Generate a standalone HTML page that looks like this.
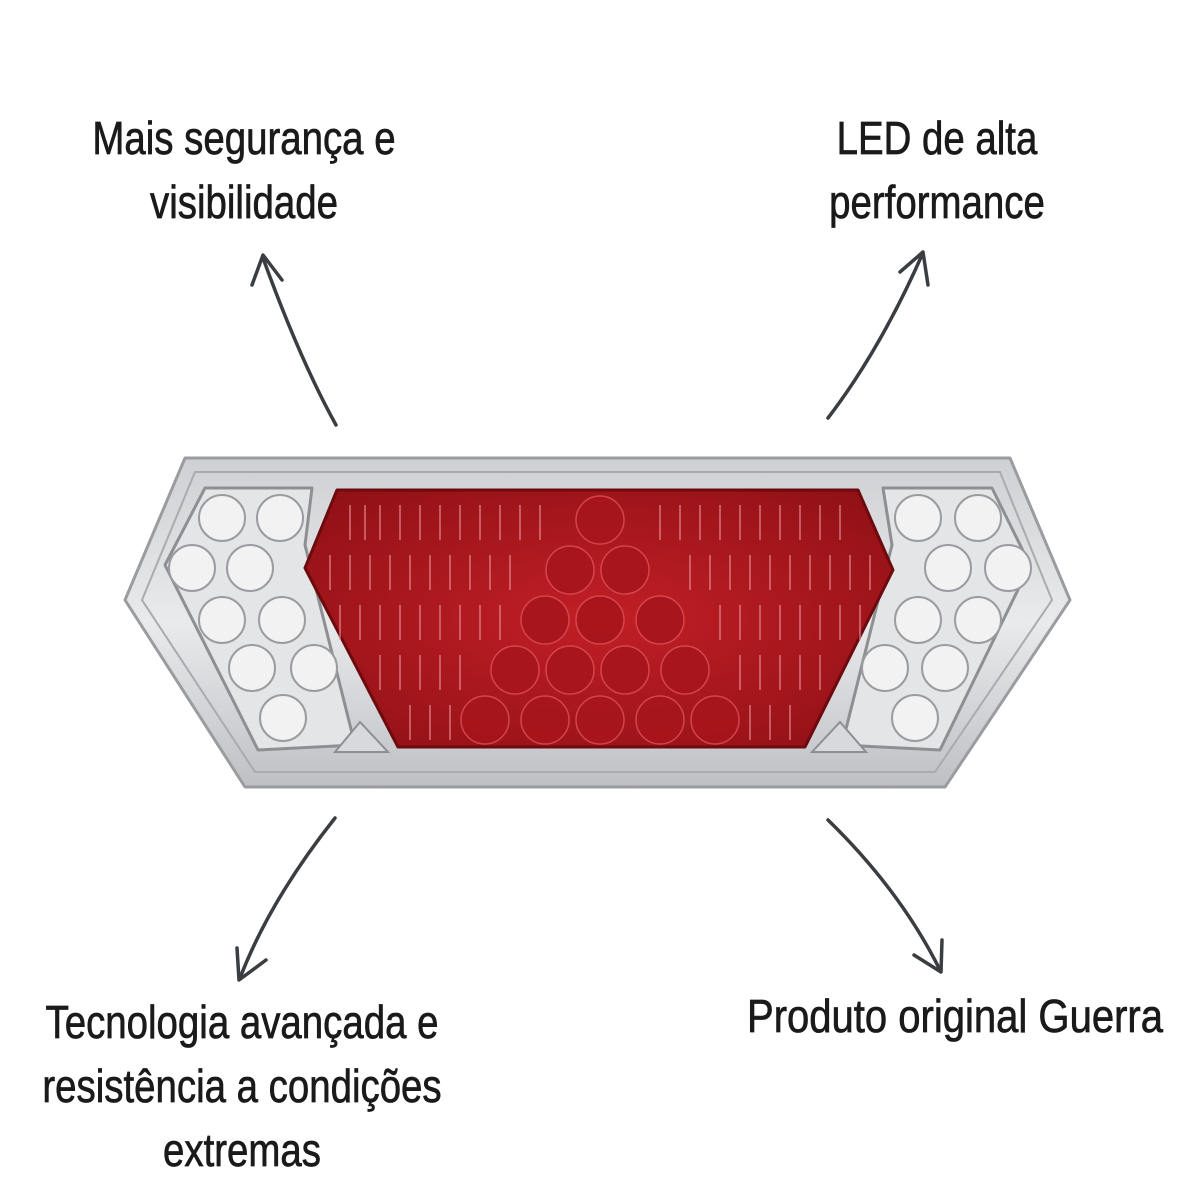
<!DOCTYPE html>
<html><head><meta charset="utf-8"><style>
html,body{margin:0;padding:0;background:#fff}
#c{position:relative;width:1200px;height:1200px;overflow:hidden;background:#fff}
.t{position:absolute;font-family:"Liberation Sans Narrow","Liberation Sans",sans-serif;font-size:46px;color:#1a1a1a;text-align:center;line-height:64px;transform:scaleX(0.835);white-space:nowrap;-webkit-text-stroke:0.7px #1a1a1a}
</style></head><body><div id="c">
<div class="t" style="left:44px;top:106px;width:400px">Mais segurança e<br>visibilidade</div>
<div class="t" style="left:737px;top:106px;width:400px">LED de alta<br>performance</div>
<div class="t" style="left:-8px;top:990px;width:500px">Tecnologia avançada e<br>resistência a condições<br>extremas</div>
<div class="t" style="left:705px;top:984px;width:500px;transform:scaleX(0.87)">Produto original Guerra</div>
<svg width="1200" height="1200" style="position:absolute;left:0;top:0">
<defs>
<linearGradient id="fr" x1="0" y1="0" x2="0" y2="1"><stop offset="0" stop-color="#cfd0d3"/><stop offset="0.5" stop-color="#e9eaec"/><stop offset="1" stop-color="#bfc0c4"/></linearGradient>
<radialGradient id="rd" cx="0.5" cy="0.5" r="0.7"><stop offset="0" stop-color="#c21f26"/><stop offset="1" stop-color="#8e1015"/></radialGradient>
</defs>
<g fill="none" stroke="#3a3d42" stroke-width="3.5" stroke-linecap="round" stroke-linejoin="round">
<path d="M336 425 Q300 360 263 258"/><path d="M252 285 L263 255 L282 280"/>
<path d="M828 418 Q880 350 922 255"/><path d="M900 272 L923 252 L928 285"/>
<path d="M335 818 Q270 900 240 978"/><path d="M237 948 L239 980 L266 960"/>
<path d="M828 820 Q900 890 940 970"/><path d="M914 955 L941 972 L942 940"/>
</g>
<polygon points="185,458 1010,458 1070,600 945,787 245,787 125,600" fill="url(#fr)" stroke="#9a9ca0" stroke-width="3" stroke-linejoin="round"/>
<polygon points="195,472 1000,472 1052,600 935,772 255,772 142,600" fill="none" stroke="#a9abaf" stroke-width="2"/>
<polygon points="205,488 312,488 305,545 355,745 258,750 165,565" fill="#e4e5e7" stroke="#8d8f93" stroke-width="3" stroke-linejoin="round"/>
<polygon points="883,488 992,488 1030,565 940,750 842,745 892,545" fill="#e4e5e7" stroke="#8d8f93" stroke-width="3" stroke-linejoin="round"/>
<polygon points="337,490 858,490 893,570 805,747 398,747 305,568" fill="url(#rd)" stroke="#6d0a0e" stroke-width="3" stroke-linejoin="round"/>
<g fill="#a8151c" stroke="#d94a50" stroke-width="1.5" opacity="0.9">
<circle cx="600" cy="520" r="24"/><circle cx="570" cy="570" r="24"/><circle cx="625" cy="570" r="24"/>
<circle cx="545" cy="620" r="24"/><circle cx="600" cy="620" r="24"/><circle cx="660" cy="620" r="24"/>
<circle cx="515" cy="670" r="24"/><circle cx="570" cy="670" r="24"/><circle cx="625" cy="670" r="24"/><circle cx="685" cy="670" r="24"/>
<circle cx="485" cy="720" r="24"/><circle cx="545" cy="720" r="24"/><circle cx="600" cy="720" r="24"/><circle cx="660" cy="720" r="24"/><circle cx="715" cy="720" r="24"/>
</g>
<g stroke="#e88a8e" stroke-width="2" opacity="0.6">
<path d="M350 505 V540 M365 505V540 M380 505V540 M400 505V540 M420 505V540 M440 505V540 M460 505V540 M480 505V540 M500 505V540 M520 505V540 M540 505V540 M660 505V540 M680 505V540 M700 505V540 M720 505V540 M740 505V540 M760 505V540 M780 505V540 M800 505V540 M820 505V540 M840 505V540"/>
<path d="M330 555V590 M350 555V590 M370 555V590 M390 555V590 M410 555V590 M430 555V590 M450 555V590 M470 555V590 M490 555V590 M510 555V590 M690 555V590 M710 555V590 M730 555V590 M750 555V590 M770 555V590 M790 555V590 M810 555V590 M830 555V590 M850 555V590 M870 555V590"/>
<path d="M340 605V640 M360 605V640 M380 605V640 M400 605V640 M420 605V640 M440 605V640 M460 605V640 M480 605V640 M500 605V640 M720 605V640 M740 605V640 M760 605V640 M780 605V640 M800 605V640 M820 605V640 M840 605V640 M860 605V640"/>
<path d="M380 655V690 M400 655V690 M420 655V690 M440 655V690 M460 655V690 M740 655V690 M760 655V690 M780 655V690 M800 655V690 M820 655V690"/>
<path d="M410 705V740 M430 705V740 M450 705V740 M750 705V740 M770 705V740 M790 705V740"/>
</g>
<g fill="#f2f2f3" stroke="#9a9ca0" stroke-width="2">
<circle cx="222" cy="518" r="23"/><circle cx="280" cy="518" r="23"/>
<circle cx="192" cy="568" r="23"/><circle cx="250" cy="568" r="23"/>
<circle cx="222" cy="620" r="23"/><circle cx="282" cy="620" r="23"/>
<circle cx="252" cy="668" r="23"/><circle cx="314" cy="668" r="23"/>
<circle cx="283" cy="718" r="23"/>
<circle cx="918" cy="518" r="23"/><circle cx="978" cy="518" r="23"/>
<circle cx="948" cy="568" r="23"/><circle cx="1008" cy="568" r="23"/>
<circle cx="918" cy="620" r="23"/><circle cx="978" cy="620" r="23"/>
<circle cx="885" cy="668" r="23"/><circle cx="945" cy="668" r="23"/>
<circle cx="915" cy="718" r="23"/>
</g>
<polygon points="335,752 360,722 388,752" fill="#d8d9dc" stroke="#8d8f93" stroke-width="2"/>
<polygon points="812,752 840,722 866,752" fill="#d8d9dc" stroke="#8d8f93" stroke-width="2"/>
</svg>
</div></body></html>
